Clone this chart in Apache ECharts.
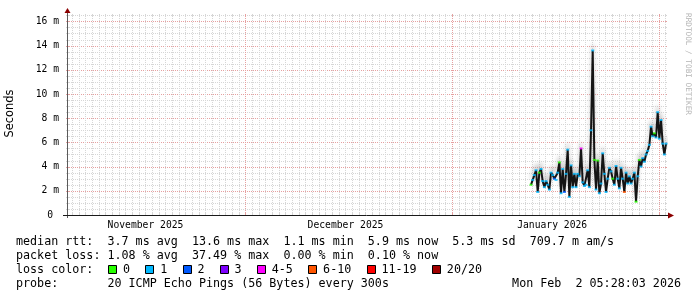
<!DOCTYPE html>
<html>
<head>
<meta charset="utf-8">
<script src="https://cdn.jsdelivr.net/npm/echarts@6.0.0/dist/echarts.min.js"></script>
<style>
html,body{margin:0;padding:0;background:#ffffff;}
#chart{width:697px;height:297px;}
</style>
</head>
<body>
<div id="chart"></div>
<script>
// ---------------- data ----------------
const graphEnd = '2026-02-02T05:28:03';
const graphSpanDays = 90;
const sampleStart = '2026-01-12T20:00:00';
const sampleStepHours = 6;
const medianMs = [
  2.5, 2.9, 3.3, 3.7, 1.9, 3.5, 3.8, 2.8, 2.3, 2.8,
  2.5, 2.1, 3.5, 3.3, 3.0, 2.9, 3.5, 4.35, 1.8, 3.8,
  1.9, 3.4, 5.4, 1.5, 4.1, 2.3, 3.4, 2.3, 3.4, 3.2,
  5.5, 2.7, 2.4, 2.5, 3.7, 2.3, 7.0, 13.6, 4.55, 2.1,
  4.5, 1.8, 2.6, 5.1, 3.4, 1.9, 3.0, 3.9, 3.6, 3.0,
  2.5, 4.05, 3.0, 2.2, 3.9, 3.0, 1.9, 3.5, 2.6, 3.2,
  2.6, 3.0, 3.5, 1.1, 3.2, 4.55, 4.0, 4.7, 4.4, 5.0,
  5.3, 5.8, 7.3, 6.5, 6.75, 6.4, 8.5, 6.3, 7.85, 5.9,
  5.0, 5.9
];
const lossPings = [
  0, 1, 1, 1, 1, 0, 1, 1, 1, 1,
  1, 1, 1, 1, 2, 1, 1, 0, 1, 1,
  2, 1, 1, 1, 1, 1, 1, 1, 1, 1,
  4, 1, 1, 1, 1, 1, 1, 1, 0, 1,
  0, 1, 1, 1, 1, 1, 1, 1, 1, 0,
  1, 1, 1, 1, 1, 1, 7, 1, 1, 1,
  1, 1, 1, 0, 1, 0, 1, 1, 1, 1,
  1, 1, 1, 1, 0, 1, 1, 1, 1, 1,
  1, 1
];
const yTickValues = [0, 2, 4, 6, 8, 10, 12, 14, 16];
const yTickLabels = ['0 ', '2 m', '4 m', '6 m', '8 m', '10 m', '12 m', '14 m', '16 m'];
const monthLabels = ['November 2025', 'December 2025', 'January 2026'];
const monthLabelDates = ['2025-11-16T00:00:00', '2025-12-16T00:00:00', '2026-01-16T00:00:00'];
const lossClassLabels = ['0', '1', '2', '3', '4-5', '6-10', '11-19', '20/20'];
const lossClassUpper = [0, 1, 2, 3, 5, 10, 19, 20];
const lossClassColors = ['#26ff00', '#00b8ff', '#0059ff', '#7e00ff', '#ff00ff', '#ff5500', '#ff0000', '#a00000'];
const statsRtt = 'median rtt:  3.7 ms avg  13.6 ms max  1.1 ms min  5.9 ms now  5.3 ms sd  709.7 m am/s';
const statsLoss = 'packet loss: 1.08 % avg  37.49 % max  0.00 % min  0.10 % now';
const lossColorTitle = 'loss color:';
const probeText = 'probe:       20 ICMP Echo Pings (56 Bytes) every 300s';
const dateText = 'Mon Feb  2 05:28:03 2026';
const yAxisTitle = 'Seconds';
const watermark = 'RRDTOOL / TOBI OETIKER';

// ---------------- layout ----------------
const W = 697, H = 297;
const G = { left: 67, right: 30, top: 14, bottom: 82 };
const plotL = G.left, plotR = W - G.right, plotT = G.top, plotB = H - G.bottom;
const yMax = 16.61;
const MONO = '"DejaVu Sans Mono", monospace';
const CH = 7.05; // legend char pitch

const tMax = new Date(graphEnd).getTime();
const tMin = tMax - graphSpanDays * 86400000;
const t0 = new Date(sampleStart).getTime();
const lineData = medianMs.map((v, i) => [t0 + i * sampleStepHours * 3600000, v]);
const monthLabelTimes = monthLabelDates.map(s => new Date(s).getTime());

function lossColor(n) {
  for (let i = 0; i < lossClassUpper.length; i++) if (n <= lossClassUpper[i]) return lossClassColors[i];
  return lossClassColors[lossClassColors.length - 1];
}

const MINOR = '#d6d6d6', MAJOR = '#e6a0a0';
function gridRender(params, api) {
  const ch = [];
  const px = v => Math.round(v) + 0.5;
  const seg = (x1, y1, x2, y2, c, dash) => ({
    type: 'line', silent: true,
    shape: { x1, y1, x2, y2 },
    style: { stroke: c, lineWidth: 1, lineDash: dash ? [1, 1] : null }
  });
  const yB = api.coord([tMin, 0])[1];
  const yT = api.coord([tMin, yMax])[1];
  const xL = api.coord([tMin, 0])[0];
  const xR = api.coord([tMax, 0])[0];
  for (let i = 1; i * 0.5 <= yMax; i++) {
    const v = i * 0.5;
    const c = (i % 4 === 0) ? MAJOR : MINOR;
    const y = px(api.coord([tMin, v])[1]);
    ch.push(seg(xL, y, xR, y, c, true));
    ch.push(seg(xL - 1, y, xL + 2, y, c, false));
    ch.push(seg(xR - 2, y, xR, y, c, false));
  }
  const d = new Date(tMin);
  d.setHours(0, 0, 0, 0);
  d.setDate(d.getDate() + 1);
  for (; d.getTime() <= tMax; d.setDate(d.getDate() + 1)) {
    const c = d.getDate() === 1 ? MAJOR : MINOR;
    const x = px(api.coord([d.getTime(), 0])[0]);
    ch.push(seg(x, yT, x, yB, c, true));
    ch.push(seg(x, yB - 2, x, yB + 1, c, false));
    ch.push(seg(x, yT, x, yT + 2, c, false));
  }
  return { type: 'group', children: ch };
}

// legend graphics
const graphics = [];
const txt = (x, y, text, extra) => ({
  type: 'text', x, y, silent: true,
  style: Object.assign({ text, fill: '#000', font: '11.7px ' + MONO, verticalAlign: 'middle', align: 'left' }, extra || {})
});
graphics.push(txt(16, 242, statsRtt));
graphics.push(txt(16, 256, statsLoss));
graphics.push(txt(16, 270, lossColorTitle));
let bx = 108.2;
lossClassLabels.forEach((lab, i) => {
  const rx = Math.round(bx) + 0.5;
  graphics.push({ type: 'rect', silent: true, shape: { x: rx, y: 265.5, width: 8, height: 8 },
    style: { fill: lossClassColors[i], stroke: '#000', lineWidth: 1 } });
  graphics.push(txt(bx + 14.8, 270, lab));
  bx += 30.15 + lab.length * CH;
});
graphics.push(txt(16, 284, probeText));
graphics.push(txt(681, 284, dateText, { align: 'right' }));
graphics.push({ type: 'text', x: 10.5, y: 113.5, rotation: Math.PI / 2, silent: true,
  style: { text: yAxisTitle, fill: '#000', font: '11.4px "DejaVu Sans", sans-serif', align: 'center', verticalAlign: 'middle' } });
graphics.push({ type: 'text', x: 688, y: 64, rotation: -Math.PI / 2, silent: true,
  style: { text: watermark, fill: '#b4b4b4', font: '7.7px ' + MONO, align: 'center', verticalAlign: 'middle' } });
// axis lines + arrows
graphics.push({ type: 'line', silent: true, z: 50, shape: { x1: plotL + 0.5, y1: plotB + 3, x2: plotL + 0.5, y2: plotT - 2 },
  style: { stroke: '#5a5a5a', lineWidth: 1 } });
graphics.push({ type: 'line', silent: true, z: 50, shape: { x1: plotL - 4, y1: plotB + 0.5, x2: plotR + 3, y2: plotB + 0.5 },
  style: { stroke: '#1a1a1a', lineWidth: 1 } });
graphics.push({ type: 'polygon', silent: true, z: 51, shape: { points: [[plotL - 2.5, plotT - 1], [plotL + 3.5, plotT - 1], [plotL + 0.5, plotT - 6]] },
  style: { fill: '#8b0000' } });
graphics.push({ type: 'polygon', silent: true, z: 51, shape: { points: [[plotR + 1, plotB - 2.5], [plotR + 1, plotB + 3.5], [plotR + 7, plotB + 0.5]] },
  style: { fill: '#8b0000' } });

const chart = echarts.init(document.getElementById('chart'), null, { renderer: 'canvas', width: W, height: H });
chart.setOption({
  animation: false,
  backgroundColor: '#ffffff',
  grid: { left: G.left, right: G.right, top: G.top, bottom: G.bottom, containLabel: false },
  xAxis: {
    type: 'value', min: tMin, max: tMax,
    axisLine: { show: false }, axisTick: { show: false }, splitLine: { show: false },
    axisLabel: {
      customValues: monthLabelTimes,
      formatter: (v) => {
        let best = 0;
        monthLabelTimes.forEach((t, i) => { if (Math.abs(t - v) < Math.abs(monthLabelTimes[best] - v)) best = i; });
        return monthLabels[best];
      },
      color: '#000', fontFamily: MONO, fontSize: 9.7, margin: 5, hideOverlap: false
    }
  },
  yAxis: {
    type: 'value', min: 0, max: yMax, interval: 2,
    axisLine: { show: false }, axisTick: { show: false }, splitLine: { show: false },
    axisLabel: {
      formatter: (v) => {
        const i = yTickValues.findIndex(t => Math.abs(t - v) < 1e-6);
        return i >= 0 ? yTickLabels[i] : '';
      },
      color: '#000', fontFamily: MONO, fontSize: 9.7, margin: 8
    }
  },
  series: [
    { type: 'custom', z: 1, silent: true, clip: false, renderItem: gridRender, data: [[tMin, 0]] },
    {
      type: 'line', z: 3, data: lineData, showSymbol: false, silent: true,
      lineStyle: { color: '#141414', width: 2, shadowColor: 'rgba(160,160,160,0.6)', shadowBlur: 4, shadowOffsetY: -6 }
    },
    {
      type: 'scatter', z: 4, data: lineData, symbol: 'rect', symbolSize: [3, 2], silent: true,
      itemStyle: { color: (p) => lossColor(lossPings[p.dataIndex]) }
    }
  ],
  graphic: graphics
});
</script>
</body>
</html>
